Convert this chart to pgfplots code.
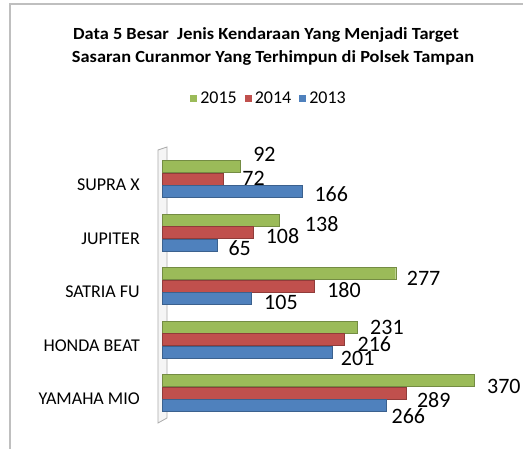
\documentclass[border=0pt]{standalone}
\usepackage{pgfplots}
\usepackage{pgfplotstable}
\pgfplotsset{compat=1.18}
\usepackage{fontspec}
\setmainfont{Carlito}
\definecolor{cgreen}{RGB}{155,187,89}
\definecolor{cred}{RGB}{192,80,77}
\definecolor{cblue}{RGB}{79,129,189}
% y = category index (0 = YAMAHA MIO ... 4 = SUPRA X), x = value, dx/up = label offsets
\pgfplotstableread{
y x dx up
0 370 13 -6
1 231 13 0
2 277 11 -5
3 138 26 -4
4 92 13 12
}\tgreen
\pgfplotstableread{
y x dx up
0 289 11 -7
1 216 13 -5
2 180 13 -4
3 108 12 -4
4 72 19 1
}\tred
\pgfplotstableread{
y x dx up
0 266 5 -11
1 201 9 -6
2 105 13 -4
3 65 11 -3
4 166 12 -3
}\tblue
\begin{document}
\begin{tikzpicture}
\path[use as bounding box, clip] (0pt,0pt) rectangle (523pt,-449pt);
\fill[white] (0pt,0pt) rectangle (523pt,-449pt);
\draw[gray!50, line width=1.5pt] (10pt,-4pt) rectangle (545pt,-470pt);
\node[font=\bfseries\fontsize{17}{20}\selectfont, anchor=base, xscale=1.08] at (266pt,-39.5pt)
  {Data 5 Besar\ \ Jenis Kendaraan Yang Menjadi Target};
\node[font=\bfseries\fontsize{17}{20}\selectfont, anchor=base, xscale=1.08] at (273pt,-62.5pt)
  {Sasaran Curanmor Yang Terhimpun di Polsek Tampan};
\filldraw[fill=gray!8, draw=gray!65, line width=0.8pt] (158pt,-423pt) -- (158pt,-150pt) -- (167pt,-147pt) -- (167pt,-418pt) -- cycle;
\begin{axis}[
  at={(162.7pt,-419.75pt)}, anchor=south west,
  scale only axis, width=336.5pt, height=267.5pt,
  xbar, bar width=12pt,
  xmin=0, xmax=400, ymin=-0.5, ymax=4.5,
  axis line style={draw=none},
  xtick=\empty, ytick={0,1,2,3,4},
  yticklabels={YAMAHA MIO,HONDA BEAT,SATRIA FU,JUPITER,SUPRA X},
  major tick length=0pt,
  yticklabel style={font=\fontsize{18}{18}\selectfont, anchor=east, inner sep=0pt, xshift=-22.7pt, yshift=-6pt},
  /pgf/number format/assume math mode=true,
  legend columns=3,
  legend style={at={(0.316,1.2)}, anchor=center, draw=none, fill=none,
    font=\fontsize{18}{18}\selectfont, column sep=1pt,
    /tikz/every even column/.append style={column sep=6pt}},
  legend image code/.code={\fill[#1,draw=none] (0pt,-3.5pt) rectangle (7pt,3.5pt);},
  visualization depends on={\thisrow{dx} \as \dx},
  visualization depends on={\thisrow{up} \as \up},
  nodes near coords,
  nodes near coords style={anchor=west, inner sep=0pt, font=\fontsize{22}{22}\selectfont, xshift=\dx pt, yshift=\up pt},
  clip=false,
]
\addplot[fill=cgreen, draw=cgreen!75!black, bar shift=12.5pt] table[x=x,y=y] {\tgreen};
\addplot[fill=cred, draw=cred!75!black, bar shift=0pt] table[x=x,y=y] {\tred};
\addplot[fill=cblue, draw=cblue!75!black, bar shift=-12.5pt] table[x=x,y=y] {\tblue};
\legend{2015,2014,2013}
\end{axis}
\end{tikzpicture}
\end{document}
